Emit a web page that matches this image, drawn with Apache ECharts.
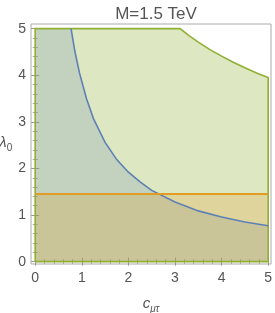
<!DOCTYPE html>
<html><head><meta charset="utf-8">
<script src="https://cdn.jsdelivr.net/npm/echarts@6/dist/echarts.min.js"></script>
<style>html,body{margin:0;padding:0;background:#fff}#c{width:275px;height:313px}</style>
</head><body><div id="c"></div>
<script>
// Tick values
const majorTicks = [0, 1, 2, 3, 4, 5];
const minorTicks = [0.2, 0.4, 0.6, 0.8, 1.2, 1.4, 1.6, 1.8, 2.2, 2.4, 2.6, 2.8, 3.2, 3.4, 3.6, 3.8, 4.2, 4.4, 4.6, 4.8];

// Green region upper boundary (c_mu_tau, lambda_0)
const greenC = [0, 3.11, 3.3, 3.5, 3.75, 4, 4.25, 4.5, 4.75, 5];
const greenL = [5, 5, 4.85, 4.71, 4.55, 4.41, 4.28, 4.16, 4.05, 3.95];

// Blue curve boundary
const blueC = [0.77, 0.85, 0.95, 1.1, 1.25, 1.5, 1.75, 2, 2.25, 2.5, 3, 3.5, 4, 4.5, 5];
const blueL = [5, 4.52, 4.05, 3.5, 3.07, 2.56, 2.19, 1.92, 1.71, 1.53, 1.28, 1.09, 0.96, 0.85, 0.77];

// Orange horizontal bound
const orangeC = [0, 5];
const orangeL = [1.45, 1.45];

const cMin = 0, cMax = 5, lMin = 0, lMax = 5;

const greenPoly = [[cMin, lMin]].concat(greenC.map((c, i) => [c, greenL[i]])).concat([[cMax, lMin]]);
const bluePoly = [[cMin, lMin], [cMin, lMax]].concat(blueC.map((c, i) => [c, blueL[i]])).concat([[cMax, lMin]]);
const blueLine = blueC.map((c, i) => [c, blueL[i]]);
const orangePoly = [[orangeC[0], lMin], [orangeC[0], orangeL[0]], [orangeC[1], orangeL[1]], [orangeC[1], lMin]];
const orangeLine = orangeC.map((c, i) => [c, orangeL[i]]);

const GREEN = '#8fb032', BLUE = '#5e81b5', ORANGE = '#e19c24';
const FONT = 'Liberation Sans';

function shapeSeries(points, kind, style, z) {
  return {
    type: 'custom', xAxisIndex: 0, yAxisIndex: 0, z: z, silent: true,
    data: [[0, 0]],
    renderItem: function (params, api) {
      const pts = points.map(p => api.coord(p));
      return { type: kind, shape: { points: pts }, style: style };
    }
  };
}

function axisPair(dim, pos, showLabel) {
  const base = {
    type: 'value', min: dim === 'x' ? -0.09 : -0.05, max: dim === 'x' ? 5.06 : 5.1,
    position: pos, splitLine: { show: false }, axisLine: { show: false }
  };
  const major = Object.assign({}, base, {
    axisTick: { show: true, inside: true, length: 4, customValues: majorTicks, lineStyle: { color: '#999', width: 1 } },
    axisLabel: { show: showLabel, customValues: majorTicks, color: '#555', fontSize: 14, fontFamily: FONT, margin: dim === 'x' ? 7 : 5 }
  });
  const minor = Object.assign({}, base, {
    axisTick: { show: true, inside: true, length: 2.5, customValues: minorTicks, lineStyle: { color: '#aaa', width: 1 } },
    axisLabel: { show: false }
  });
  return [major, minor];
}

const xAxes = axisPair('x', 'bottom', true).concat(axisPair('x', 'top', false));
xAxes[0].name = '{c|c}{s|μτ}';
xAxes[0].nameLocation = 'middle';
xAxes[0].nameGap = 32;
xAxes[0].nameTextStyle = { rich: {
  c: { fontSize: 15, fontStyle: 'italic', color: '#555', fontFamily: FONT, verticalAlign: 'top', lineHeight: 18 },
  s: { fontSize: 10, fontStyle: 'italic', color: '#555', fontFamily: FONT, verticalAlign: 'bottom', lineHeight: 18, padding: [8, 0, 0, 0] }
} };
const yAxes = axisPair('y', 'left', true).concat(axisPair('y', 'right', false));
yAxes[0].name = '{c|λ}{s|0}';
yAxes[0].nameLocation = 'middle';
yAxes[0].nameRotate = 0;
yAxes[0].nameGap = 14;
yAxes[0].nameTextStyle = { rich: {
  c: { fontSize: 15, fontStyle: 'italic', color: '#555', fontFamily: FONT, verticalAlign: 'top', lineHeight: 18 },
  s: { fontSize: 10, color: '#555', fontFamily: FONT, verticalAlign: 'bottom', lineHeight: 18, padding: [8, 0, 0, 0] }
} };

const chart = echarts.init(document.getElementById('c'), null, { renderer: 'canvas' });
chart.setOption({
  animation: false,
  backgroundColor: '#fff',
  title: { text: 'M=1.5 TeV', left: 151, textAlign: 'center', top: 1,
    textStyle: { fontSize: 17, fontWeight: 'normal', color: '#555', fontFamily: FONT } },
  grid: { left: 31, right: 4, top: 24, bottom: 49, containLabel: false, outerBoundsMode: 'none',
    show: true, borderColor: '#aaa', borderWidth: 1, backgroundColor: 'transparent' },
  xAxis: xAxes.map((a, i) => Object.assign(a, { gridIndex: 0 })),
  yAxis: yAxes.map((a, i) => Object.assign(a, { gridIndex: 0 })),
  series: [
    shapeSeries(greenPoly, 'polygon', { fill: GREEN, opacity: 0.3 }, 1),
    shapeSeries(bluePoly, 'polygon', { fill: BLUE, opacity: 0.2 }, 2),
    shapeSeries(orangePoly, 'polygon', { fill: ORANGE, opacity: 0.24 }, 3),
    shapeSeries(greenPoly.concat([greenPoly[0]]), 'polyline', { fill: null, stroke: GREEN, lineWidth: 1.6 }, 4),
    shapeSeries(blueLine, 'polyline', { fill: null, stroke: BLUE, lineWidth: 1.6 }, 5),
    shapeSeries(orangeLine, 'polyline', { fill: null, stroke: ORANGE, lineWidth: 2 }, 6)
  ]
});
</script></body></html>
